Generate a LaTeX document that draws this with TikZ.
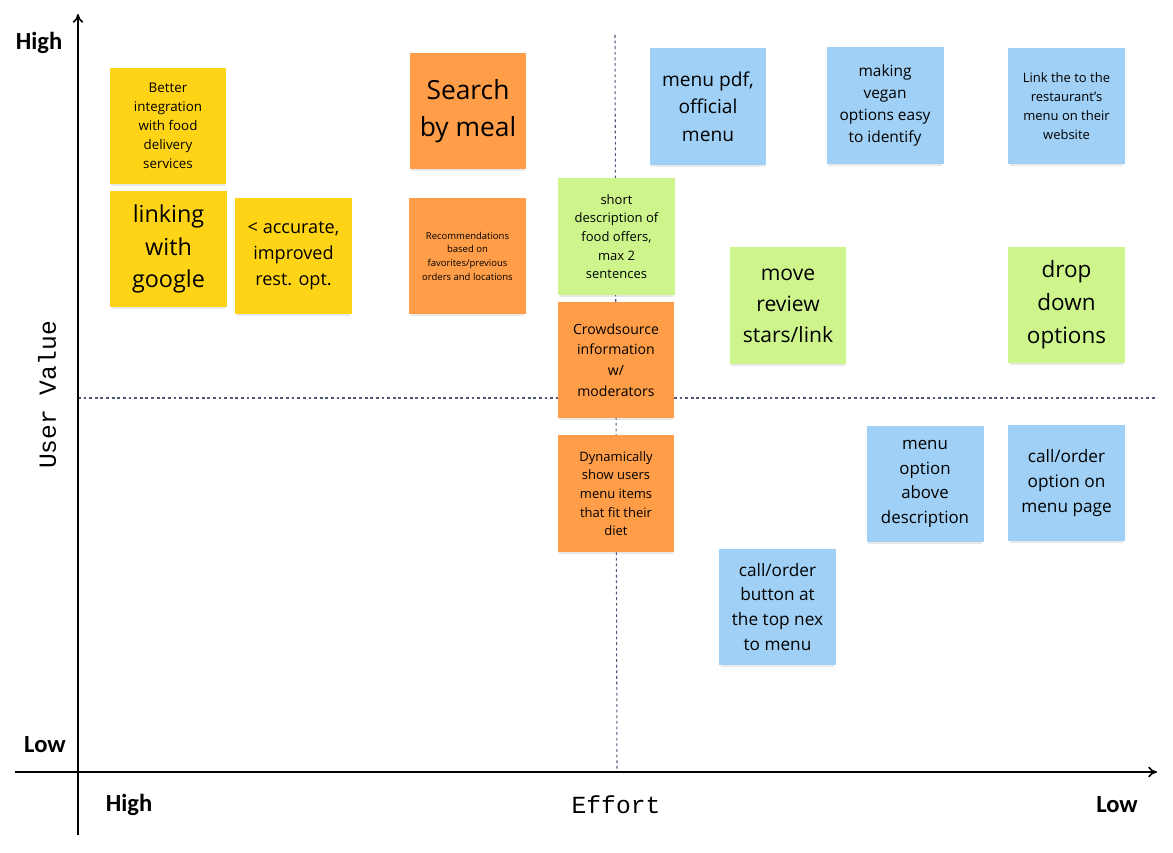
\documentclass[tikz,border=0pt]{standalone}
\usepackage{fontspec}
\setmainfont{Open Sans}
\setmonofont{Liberation Mono}
\newfontfamily\levelfont{Carlito}
\usetikzlibrary{arrows.meta,shadows}

\definecolor{noteyellow}{HTML}{FFD417}
\definecolor{noteorange}{HTML}{FF9D48}
\definecolor{notegreen}{HTML}{CDF58C}
\definecolor{noteblue}{HTML}{A0D0F5}
\definecolor{slate}{HTML}{505A78}

\begin{document}
\begin{tikzpicture}[
        x=0.02cm, y=-0.02cm,
        >={To[length=5pt,width=6pt]},
        % Sticky note styles
        note/.style={
            rectangle,
            fill=#1,
            minimum width=2.34cm,
            minimum height=2.34cm,
            inner sep=2pt,
            align=center,
            text=black,
            drop shadow={shadow xshift=0pt, shadow yshift=-2pt, shadow scale=0.97, opacity=0.18}
        },
        sz/.style 2 args={font=\fontsize{#1}{#2}\selectfont},
        axis/.style={->, line width=0.9pt},
        divider/.style={draw=slate, line width=0.6pt, dash pattern=on 1.6pt off 1.6pt},
        level/.style={font=\levelfont\bfseries\fontsize{14}{16}\selectfont},
        axislabel/.style={font=\ttfamily\fontsize{14}{16}\selectfont}
    ]
    \useasboundingbox (0,0) rectangle (1173,852);

    % Axes
    \coordinate (yfoot) at (78,835);
    \coordinate (ytop) at (78,14);
    \coordinate (xfoot) at (15,772);
    \coordinate (xtip) at (1157,772);
    \coordinate (vtop) at (615,35);
    \coordinate (vbot) at (617,772);
    \coordinate (hleft) at (78,398);
    \coordinate (hright) at (1155,398);
    \draw[divider] (vtop) -- (vbot);
    \draw[divider] (hleft) -- (hright);
    \draw[axis] (yfoot) -- (ytop);
    \draw[axis] (xfoot) -- (xtip);

    % Axis labels
    \node[level] (vhigh) at (39,43) {High};
    \node[level] (vlow) at (45,745) {Low};
    \node[level] (ehigh) at (129,805) {High};
    \node[level] (elow) at (1117,805) {Low};
    \node[axislabel] (effort) at (616,805) {Effort};
    \node[axislabel, rotate=90] (uservalue) at (47,395) {User Value};

    % Yellow notes
    \node[note=noteyellow, sz={7.6}{10.8}] (delivery) at (168,126) {Better\\integration\\with food\\delivery\\services};
    \node[note=noteyellow, sz={13.3}{18.7}] (google) at (168.5,249) {linking\\with\\google};
    \node[note=noteyellow, sz={10.3}{14.7}] (accurate) at (293.5,256) {< accurate,\\improved\\rest. opt.};

    % Orange notes
    \node[note=noteorange, sz={15}{21}] (search) at (468,111) {Search\\by meal};
    \node[note=noteorange, sz={5.4}{7.8}] (recommend) at (467.5,256) {Recommendations\\based on\\favorites/previous\\orders and locations};
    \node[note=noteorange, sz={8}{11.7}] (crowd) at (616,360) {Crowdsource\\information\\w/\\moderators};
    \node[note=noteorange, sz={7.4}{10.6}] (diet) at (616,493.5) {Dynamically\\show users\\menu items\\that fit their\\diet};

    % Green notes
    \node[note=notegreen, sz={7.4}{10.6}] (shortdesc) at (616.5,236.5) {short\\description of\\food offers,\\max 2\\sentences};
    \node[note=notegreen, sz={12}{17.6}] (stars) at (788,305.5) {move\\review\\stars/link};
    \node[note=notegreen, sz={12.8}{18.7}] (dropdown) at (1066.5,305) {drop\\down\\options};

    % Blue notes
    \node[note=noteblue, sz={10.9}{15.6}] (pdf) at (708,106.5) {menu pdf,\\official\\menu};
    \node[note=noteblue, sz={8.8}{12.6}] (vegan) at (885,105.5) {making\\vegan\\options easy\\to identify};
    \node[note=noteblue, sz={7.4}{10.8}] (link) at (1066.5,106) {Link the to the\\restaurant's\\menu on their\\website};
    \node[note=noteblue, sz={9.6}{14}] (above) at (925,484) {menu\\option\\above\\description};
    \node[note=noteblue, sz={9.8}{14.2}] (callpage) at (1066.5,483) {call/order\\option on\\menu page};
    \node[note=noteblue, sz={9.8}{14.2}] (callbutton) at (777.5,607) {call/order\\button at\\the top nex\\to menu};

\end{tikzpicture}
\end{document}
